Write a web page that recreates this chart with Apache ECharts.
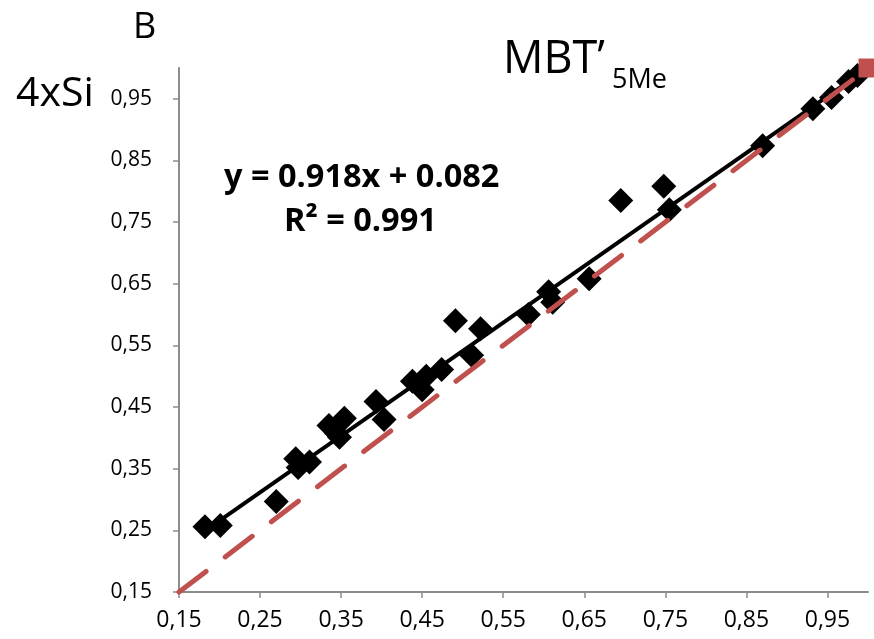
<!DOCTYPE html>
<html>
<head>
<meta charset="utf-8">
<script src="https://cdn.jsdelivr.net/npm/echarts@6/dist/echarts.min.js"></script>
<style>
  html, body { margin: 0; padding: 0; background: #fff; }
  #chart { width: 874px; height: 639px; }
</style>
</head>
<body>
<div id="chart"></div>
<script>
// MBT'5Me vs 4xSi
var mbtX = [0.182, 0.201, 0.270, 0.294, 0.297, 0.311, 0.335, 0.344, 0.348, 0.354,
            0.393, 0.403, 0.438, 0.450, 0.455, 0.474, 0.491, 0.511, 0.522, 0.581,
            0.606, 0.611, 0.656, 0.695, 0.748, 0.755, 0.870, 0.932, 0.955, 0.976, 0.987];
var siY  = [0.256, 0.258, 0.297, 0.366, 0.352, 0.361, 0.420, 0.408, 0.401, 0.432,
            0.459, 0.430, 0.492, 0.478, 0.500, 0.511, 0.590, 0.534, 0.577, 0.600,
            0.637, 0.620, 0.658, 0.785, 0.808, 0.770, 0.874, 0.934, 0.952, 0.978, 0.988];
// regression y = 0.918x + 0.082, drawn over the range of the data
var slope = 0.918, intercept = 0.082;
var fitX = [0.182, 0.987];
// 1:1 reference line
var oneToOne = [[0.15, 0.15], [1.0, 1.0]];
var tickMin = 0.15, tickMax = 1.0, tickStep = 0.1;

var points = mbtX.map(function (x, i) { return [x, siY[i]]; });
var fitLine = fitX.map(function (x) { return [x, slope * x + intercept]; });

var myChart = echarts.init(document.getElementById('chart'));
var axisFont = 'Open Sans';
function commaLabel(v) { return v.toFixed(2).replace('.', ','); }

myChart.setOption({
    animation: false,
    grid: { left: 179, right: 6, top: 68, bottom: 47 },
    xAxis: {
        type: 'value',
        min: tickMin, max: tickMax, interval: tickStep,
        axisLine: { lineStyle: { color: '#8c8c8c', width: 2 } },
        axisTick: { show: true, length: 6, lineStyle: { color: '#8c8c8c', width: 1.5 } },
        splitLine: { show: false },
        axisLabel: {
            margin: 17, color: '#000', fontFamily: axisFont, fontSize: 23,
            showMaxLabel: false,
            formatter: commaLabel
        }
    },
    yAxis: {
        type: 'value',
        min: tickMin, max: tickMax, interval: tickStep,
        axisLine: { show: true, lineStyle: { color: '#8c8c8c', width: 2 } },
        axisTick: { show: true, length: 6, lineStyle: { color: '#8c8c8c', width: 1.5 } },
        splitLine: { show: false },
        axisLabel: {
            margin: 27, color: '#000', fontFamily: axisFont, fontSize: 21,
            showMaxLabel: false,
            formatter: commaLabel
        }
    },
    series: [
        {
            name: '1:1',
            type: 'line',
            data: oneToOne,
            clip: false,
            showSymbol: true,
            symbol: 'rect',
            symbolSize: function (v) { return v[0] >= 1 ? 19 : 0; },
            itemStyle: { color: '#C0504D' },
            lineStyle: { color: '#C0504D', width: 5, type: [34, 24], cap: 'round' },
            z: 3
        },
        {
            name: 'fit',
            type: 'line',
            data: fitLine,
            showSymbol: false,
            lineStyle: { color: '#000', width: 4 },
            z: 2
        },
        {
            name: '4xSi',
            type: 'scatter',
            data: points,
            symbol: 'diamond',
            symbolSize: 25,
            itemStyle: { color: '#000', opacity: 1 },
            z: 1
        }
    ],
    graphic: [
        { type: 'text', left: 133, top: 10, style: { text: 'B', font: '36px "Open Sans"', fill: '#000' } },
        { type: 'text', left: 16, top: 74, style: { text: '4xSi', font: '41px "Open Sans"', fill: '#000' } },
        { type: 'text', left: 503, top: 38, style: { text: 'MBT’', font: '45px "Open Sans"', fill: '#000' } },
        { type: 'text', left: 612, top: 67, style: { text: '5Me', font: '27px "Open Sans"', fill: '#000' } },
        { type: 'text', left: 224, top: 161, style: { text: 'y = 0.918x + 0.082', font: 'bold 32.5px "Open Sans"', fill: '#000' } },
        { type: 'text', left: 284, top: 205, style: { text: 'R² = 0.991', font: 'bold 32.5px "Open Sans"', fill: '#000' } }
    ]
});
</script>
</body>
</html>
